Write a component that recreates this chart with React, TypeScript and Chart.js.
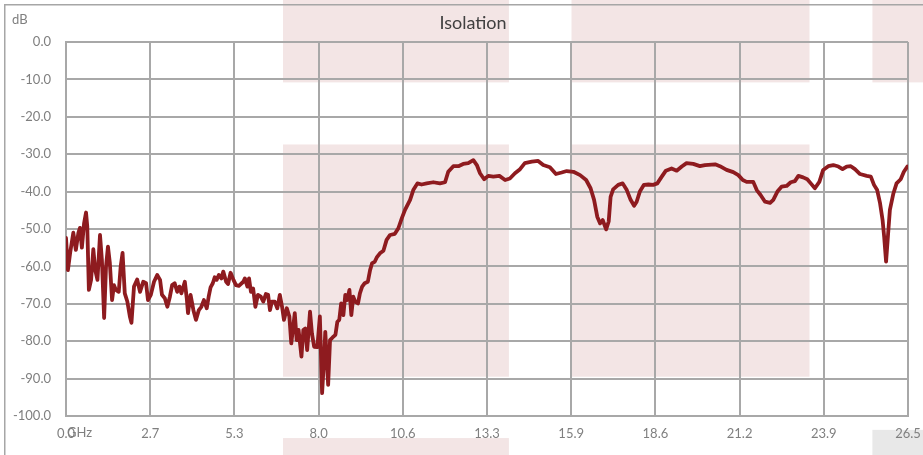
import React, { useEffect, useRef } from 'react';
import { Chart, registerables } from 'chart.js';

Chart.register(...registerables);

// Frequency (GHz) of each trace sample
const freqGHz = [
  0.00, 0.06, 0.13, 0.23, 0.31, 0.39, 0.44, 0.50, 0.57, 0.63, 0.67, 0.72, 0.79, 0.86, 0.92, 0.99,
  1.07, 1.13, 1.20, 1.26, 1.32, 1.38, 1.45, 1.51, 1.57, 1.66, 1.72, 1.78, 1.85, 1.93, 2.01, 2.06,
  2.14, 2.24, 2.33, 2.43, 2.52, 2.58, 2.67, 2.77, 2.87, 2.96, 3.02, 3.11, 3.19, 3.27, 3.34, 3.42,
  3.50, 3.57, 3.63, 3.74, 3.80, 3.84, 3.92, 4.01, 4.09, 4.18, 4.26, 4.34, 4.43, 4.49, 4.55, 4.62,
  4.68, 4.74, 4.81, 4.89, 4.95, 5.04, 5.10, 5.18, 5.27, 5.35, 5.44, 5.58, 5.63, 5.71, 5.76, 5.82,
  5.89, 5.96, 6.04, 6.13, 6.21, 6.29, 6.36, 6.42, 6.48, 6.57, 6.65, 6.73, 6.80, 6.86, 6.95, 7.03,
  7.09, 7.15, 7.20, 7.26, 7.32, 7.41, 7.47, 7.53, 7.59, 7.68, 7.74, 7.81, 7.91, 7.99, 8.06, 8.12,
  8.16, 8.25, 8.31, 8.39, 8.48, 8.54, 8.60, 8.66, 8.73, 8.79, 8.85, 8.92, 8.98, 9.04, 9.10, 9.19,
  9.25, 9.32, 9.40, 9.50, 9.57, 9.63, 9.72, 9.78, 9.88, 9.99, 10.09, 10.20, 10.35, 10.46, 10.57, 10.67,
  10.83, 10.93, 11.06, 11.19, 11.35, 11.56, 11.77, 11.93, 12.03, 12.19, 12.35, 12.50, 12.66, 12.82, 12.93, 13.03,
  13.16, 13.29, 13.45, 13.64, 13.82, 13.97, 14.13, 14.29, 14.44, 14.66, 14.86, 15.02, 15.23, 15.42, 15.60, 15.76,
  15.97, 16.18, 16.37, 16.51, 16.62, 16.72, 16.81, 16.89, 17.00, 17.08, 17.14, 17.22, 17.38, 17.52, 17.65, 17.77,
  17.88, 17.96, 18.06, 18.19, 18.33, 18.48, 18.61, 18.75, 18.88, 19.06, 19.22, 19.38, 19.53, 19.74, 19.95, 20.11,
  20.43, 20.58, 20.79, 21.00, 21.16, 21.30, 21.42, 21.63, 21.74, 21.86, 22.00, 22.16, 22.26, 22.39, 22.52, 22.68,
  22.81, 22.94, 23.05, 23.20, 23.33, 23.44, 23.57, 23.71, 23.83, 23.99, 24.15, 24.31, 24.44, 24.57, 24.70, 24.83,
  24.99, 25.20, 25.33, 25.43, 25.53, 25.62, 25.70, 25.75, 25.81, 25.86, 25.93, 26.04, 26.14, 26.27, 26.37, 26.48,
];

// Isolation (dB) at each frequency
const isolationDb = [
  -52.4, -61.0, -56.4, -51.0, -55.6, -51.0, -49.7, -55.0, -48.4, -45.6, -49.4, -66.3, -63.6, -55.4, -61.0, -63.6,
  -51.6, -58.3, -73.8, -60.0, -54.7, -59.1, -69.0, -65.0, -66.3, -66.8, -60.1, -56.4, -67.2, -69.4, -73.4, -75.1,
  -65.4, -63.5, -66.8, -64.1, -64.5, -69.0, -67.6, -64.1, -62.3, -63.6, -67.6, -68.5, -70.8, -68.1, -65.0, -64.5,
  -66.8, -65.4, -67.2, -64.1, -68.5, -72.5, -67.6, -71.7, -74.3, -71.7, -70.8, -69.0, -71.2, -68.1, -65.6, -64.5,
  -62.9, -63.6, -62.3, -63.2, -61.4, -64.1, -64.7, -61.7, -63.6, -65.0, -65.2, -64.1, -63.2, -65.4, -63.2, -66.8,
  -65.9, -70.8, -67.6, -68.1, -69.4, -67.4, -67.6, -71.7, -69.4, -69.4, -71.2, -67.6, -70.8, -74.3, -71.2, -73.4,
  -80.6, -76.1, -72.5, -79.7, -77.0, -84.1, -77.0, -76.6, -82.4, -72.1, -77.9, -81.5, -81.6, -73.4, -93.9, -85.0,
  -77.5, -91.7, -79.7, -79.0, -78.3, -74.8, -74.3, -69.9, -73.0, -67.6, -69.0, -66.3, -73.0, -68.1, -69.4, -69.9,
  -67.2, -65.4, -64.5, -64.1, -61.0, -59.2, -58.7, -57.6, -56.5, -55.8, -52.9, -51.6, -51.3, -49.8, -47.1, -44.9,
  -42.2, -39.6, -37.8, -38.1, -37.8, -37.5, -37.8, -37.5, -34.7, -33.2, -33.2, -32.6, -32.4, -31.6, -32.9, -35.1,
  -36.7, -35.8, -36.0, -35.8, -36.9, -36.5, -35.1, -34.0, -32.4, -32.0, -31.8, -32.9, -33.5, -35.3, -34.9, -34.5,
  -34.7, -35.6, -36.9, -39.1, -42.2, -46.7, -48.5, -47.6, -50.1, -48.0, -41.4, -39.4, -38.2, -37.8, -39.6, -42.2,
  -43.8, -42.7, -40.0, -38.2, -38.1, -38.2, -37.8, -36.0, -34.4, -33.8, -34.4, -33.3, -32.4, -32.6, -33.2, -32.9,
  -32.7, -33.2, -34.2, -34.8, -35.6, -36.9, -37.4, -37.4, -39.6, -40.9, -42.7, -43.0, -42.2, -40.0, -38.7, -38.5,
  -37.5, -37.2, -35.8, -36.2, -36.7, -37.8, -39.1, -37.4, -34.2, -33.2, -32.9, -33.3, -34.0, -33.3, -33.2, -34.0,
  -35.3, -35.8, -36.0, -38.2, -39.6, -43.1, -47.6, -52.1, -58.7, -52.9, -44.9, -40.5, -37.8, -36.7, -34.7, -33.3,
];

const xTickValues = [0, 2.65, 5.3, 7.95, 10.6, 13.25, 15.9, 18.55, 21.2, 23.85, 26.5];
const xTickLabels = ['0.0', '2.7', '5.3', '8.0', '10.6', '13.3', '15.9', '18.6', '21.2', '23.9', '26.5'];
const yTickValues = [-100, -90, -80, -70, -60, -50, -40, -30, -20, -10, 0];
const yTickLabels = ['-100.0', '-90.0', '-80.0', '-70.0', '-60.0', '-50.0', '-40.0', '-30.0', '-20.0', '-10.0', '0.0'];

const chartTitle = 'Isolation';
const yUnit = 'dB';
const xUnit = 'GHz';
const seriesName = 'Isolation';

// Shaded blocks: [fromGHz, toGHz, topDb, bottomDb, kind]
const shadeFromGHz = [6.83, 6.83, 6.83, 15.91, 15.91, 25.38, 25.38];
const shadeToGHz = [13.94, 13.94, 13.94, 23.40, 23.40, 28.0, 28.0];
const shadeTopDb = [12, -27.4, -105.9, 12, -27.4, 12, -103.7];
const shadeBottomDb = [-10.8, -89.5, -115, -10.8, -89.5, -10.8, -115];
const shadeKind = ['pink', 'pink', 'pink', 'pink', 'pink', 'pink', 'gray'];

const FONT = 'Lato, "Open Sans", sans-serif';

export default function App() {
  const canvasRef = useRef<HTMLCanvasElement | null>(null);

  useEffect(() => {
    const canvas = canvasRef.current;
    if (!canvas) return;

    const decorPlugin = {
      id: 'decor',
      beforeDraw(chart: any) {
        const { ctx, scales } = chart;
        const xs = scales.x;
        const ys = scales.y;
        ctx.save();
        ctx.fillStyle = '#ffffff';
        ctx.fillRect(0, 0, chart.width, chart.height);
        for (let i = 0; i < shadeFromGHz.length; i++) {
          const x1 = xs.getPixelForValue(shadeFromGHz[i]);
          const x2 = xs.getPixelForValue(shadeToGHz[i]);
          const y1 = ys.getPixelForValue(shadeTopDb[i]);
          const y2 = ys.getPixelForValue(shadeBottomDb[i]);
          ctx.fillStyle = shadeKind[i] === 'pink' ? '#f3e5e5' : '#e8e8e8';
          ctx.fillRect(x1, y1, x2 - x1, y2 - y1);
        }
        ctx.strokeStyle = '#a6a6a6';
        ctx.lineWidth = 1.5;
        ctx.strokeRect(4.75, 4.75, 2000, 2000);
        ctx.restore();
      },
      afterDraw(chart: any) {
        const { ctx, chartArea } = chart;
        ctx.save();
        ctx.fillStyle = '#404040';
        ctx.font = `18px ${FONT}`;
        ctx.textAlign = 'center';
        ctx.textBaseline = 'middle';
        ctx.fillText(chartTitle, 473, 23);
        ctx.fillStyle = '#7f7f7f';
        ctx.font = `13px ${FONT}`;
        ctx.textAlign = 'left';
        ctx.fillText(yUnit, 12, 20);
        ctx.fillText(xUnit, chartArea.left + 1, 433);
        ctx.restore();
      },
    };

    const chart = new Chart(canvas, {
      type: 'line',
      data: {
        datasets: [
          {
            label: seriesName,
            data: freqGHz.map((f, i) => ({ x: f, y: isolationDb[i] })),
            borderColor: '#8e1b1f',
            borderWidth: 3.8,
            borderJoinStyle: 'round',
            borderCapStyle: 'round',
            pointRadius: 0,
            tension: 0,
            fill: false,
          },
        ],
      },
      options: {
        responsive: false,
        animation: false,
        events: [],
        layout: { padding: { top: 42, right: 15, left: 0, bottom: 0 } },
        plugins: {
          legend: { display: false },
          title: { display: false },
          tooltip: { enabled: false },
        },
        scales: {
          x: {
            type: 'linear',
            min: 0,
            max: 26.5,
            afterBuildTicks: (scale: any) => {
              scale.ticks = xTickValues.map((v) => ({ value: v }));
            },
            afterFit: (scale: any) => {
              scale.height = 39;
              scale.paddingLeft = 0;
              scale.paddingRight = 0;
            },
            ticks: {
              autoSkip: false,
              maxRotation: 0,
              padding: 10,
              color: '#7f7f7f',
              font: { family: FONT, size: 13 },
              callback: (value: any) => {
                const idx = xTickValues.findIndex((v) => Math.abs(v - value) < 1e-6);
                return idx >= 0 ? xTickLabels[idx] : '';
              },
            },
            grid: { color: '#a8a8a8', lineWidth: 2, drawTicks: false },
            border: { color: '#a8a8a8', width: 2 },
          },
          y: {
            type: 'linear',
            min: -100,
            max: 0,
            afterBuildTicks: (scale: any) => {
              scale.ticks = yTickValues.map((v) => ({ value: v }));
            },
            afterFit: (scale: any) => {
              scale.width = 66;
              scale.paddingTop = 0;
              scale.paddingBottom = 0;
            },
            ticks: {
              autoSkip: false,
              padding: 15,
              color: '#7f7f7f',
              font: { family: FONT, size: 13 },
              callback: (value: any) => {
                const idx = yTickValues.findIndex((v) => Math.abs(v - value) < 1e-6);
                return idx >= 0 ? yTickLabels[idx] : '';
              },
            },
            grid: { color: '#a8a8a8', lineWidth: 2, drawTicks: false },
            border: { color: '#a8a8a8', width: 2 },
          },
        },
      },
      plugins: [decorPlugin],
    });

    return () => {
      chart.destroy();
    };
  }, []);

  return (
    <div style={{ position: 'fixed', left: 0, top: 0, width: 923, height: 455, background: '#fff' }}>
      <canvas ref={canvasRef} width={923} height={455} style={{ display: 'block' }} />
    </div>
  );
}
